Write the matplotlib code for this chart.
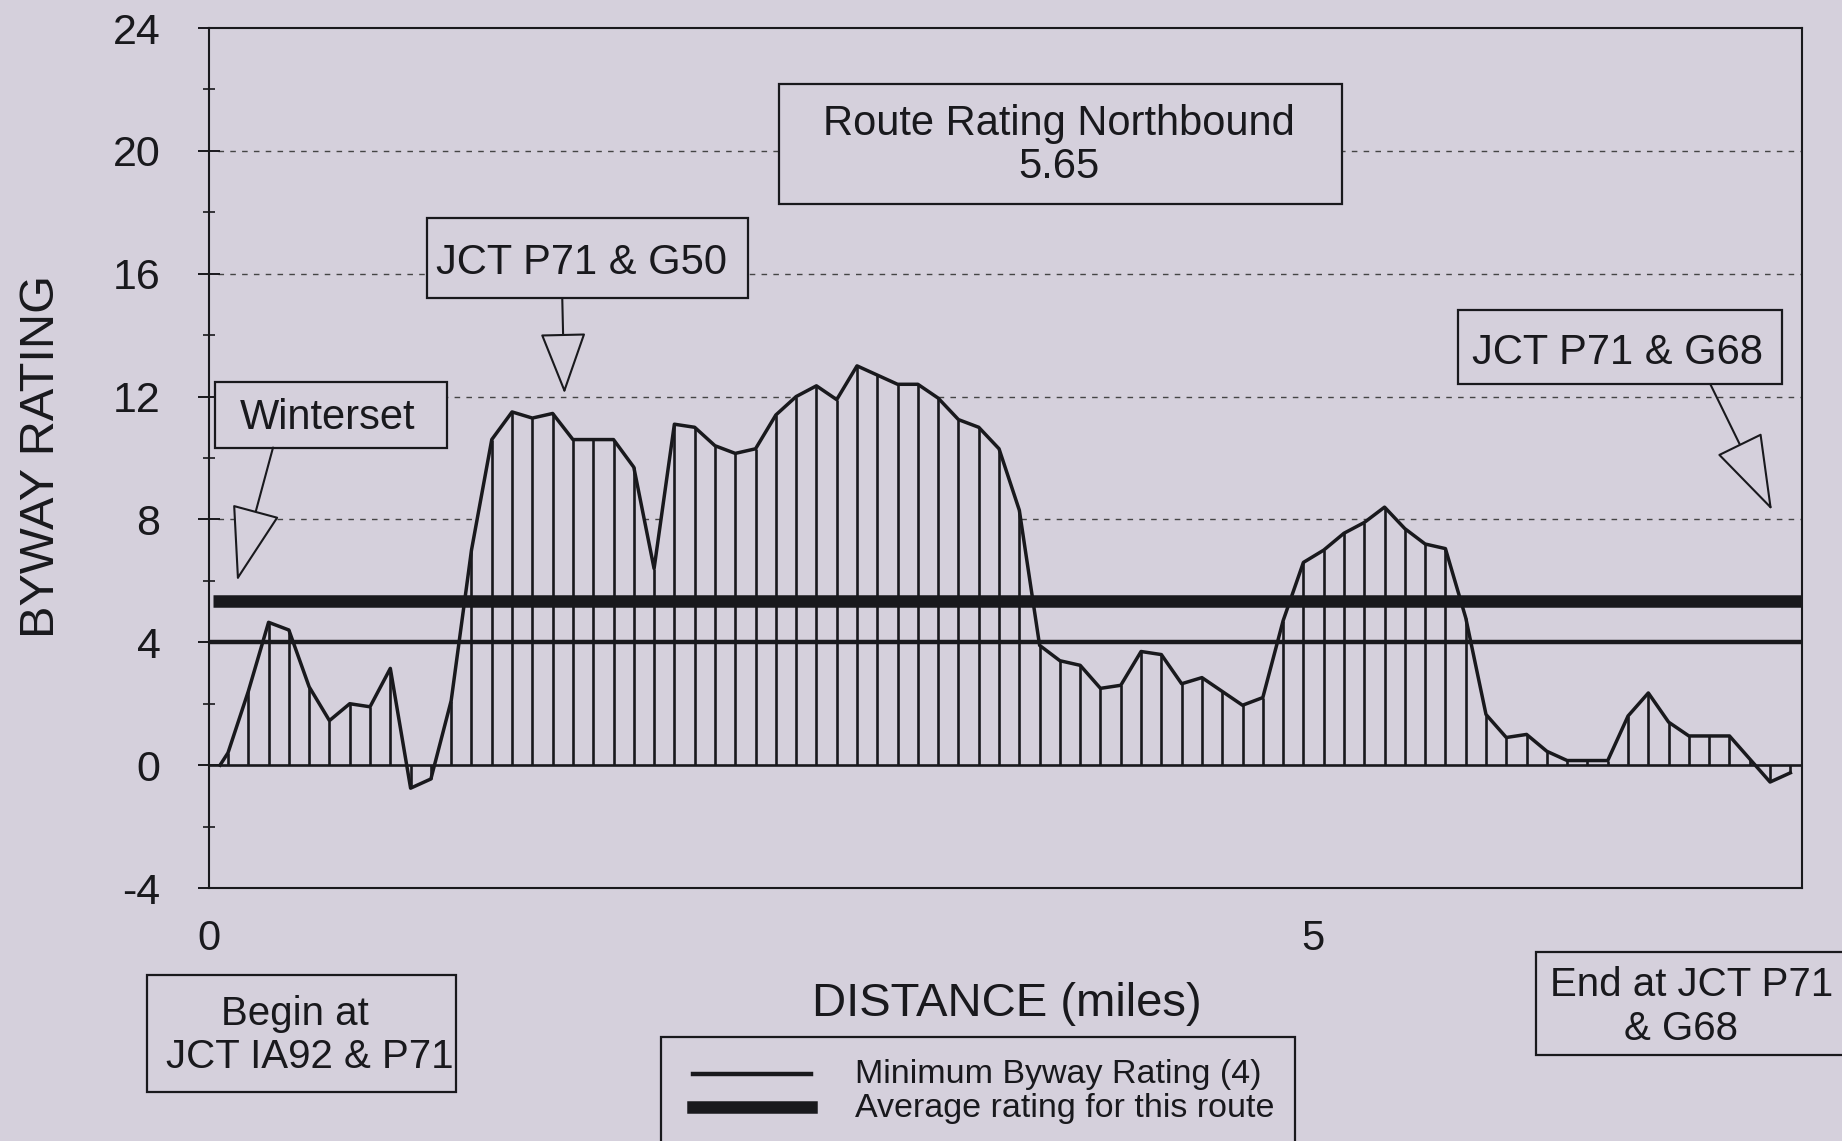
import numpy as np
import matplotlib
matplotlib.use('Agg')
import matplotlib.pyplot as plt
from matplotlib.patches import Rectangle
from matplotlib.lines import Line2D

# Byway rating sampled along the route, northbound from JCT IA92 & P71
start_mile = 0.05
first_mile = 0.086
step_mile = 0.0919
ratings = [0.0, 0.4, 2.4, 4.65, 4.4, 2.55, 1.45, 2.0, 1.9, 3.15, -0.75,
           -0.45, 2.1, 7.0, 10.6, 11.5, 11.3, 11.45, 10.6, 10.6, 10.6,
           9.7, 6.4, 11.1, 11.0, 10.4, 10.15, 10.3, 11.4, 12.0, 12.35,
           11.9, 13.0, 12.7, 12.4, 12.4, 11.95, 11.25, 11.0, 10.3, 8.3,
           3.9, 3.4, 3.25, 2.5, 2.6, 3.7, 3.6, 2.65, 2.85, 2.4,
           1.95, 2.2, 4.7, 6.6, 7.0, 7.55, 7.9, 8.4, 7.7, 7.2,
           7.05, 4.8, 1.65, 0.9, 1.0, 0.45, 0.15, 0.15, 0.15, 1.6,
           2.35, 1.4, 0.95, 0.95, 0.95, 0.2, -0.55, -0.25]
distance = np.concatenate([[start_mile],
                           first_mile + step_mile * np.arange(len(ratings) - 1)])

min_rating = 4
avg_line = 5.35          # where the average line is drawn on the chart
route_rating = '5.65'

y_ticks = [-4, 0, 4, 8, 12, 16, 20, 24]
x_ticks = [0, 5]
x_tick_labels = ['0', '5']
grid_levels = [8, 12, 16, 20]

BG = '#d5d0dc'
INK = '#19191d'
GRID = '#454545'
W, H = 1842, 1141

plt.rcParams['font.family'] = ['Liberation Sans', 'DejaVu Sans']
plt.rcParams['axes.unicode_minus'] = False


def fx(px):
    return px / W


def fy(py):
    return 1 - py / H


fig = plt.figure(figsize=(W / 100, H / 100), dpi=100, facecolor=BG)
ax = fig.add_axes([fx(209), fy(888), (1802 - 209) / W, (888 - 28) / H])
ax.set_facecolor(BG)
ax.set_xlim(0, 7.215)
ax.set_ylim(-4, 24)

# dashed reference lines
ax.hlines(grid_levels, 0.04, 7.215, colors=GRID, linestyles=(0, (4, 4.5)),
          lw=1.0, zorder=1)

# area under the profile hides the dashed lines
ax.fill_between(distance, 0, ratings, color=BG, lw=0, zorder=2)
ax.vlines(distance, 0, ratings, colors=INK, lw=1.9, zorder=3)
ax.plot(distance, ratings, color=INK, lw=2.5, zorder=3.5)
ax.axhline(0, color=INK, lw=1.9, zorder=3)

ax.axhline(min_rating, color=INK, lw=3.2, zorder=4)
ax.hlines(avg_line, 0.02, 7.215, colors=INK, lw=9, zorder=4)

ax.set_yticks(y_ticks)
ax.set_yticks(np.arange(-4, 25, 2), minor=True)
ax.set_xticks(x_ticks)
ax.set_xticklabels(x_tick_labels)
ax.tick_params(axis='y', which='major', direction='inout', length=16,
               width=1.4, pad=27, labelsize=31, colors=INK)
ax.tick_params(axis='y', which='minor', direction='inout', length=8,
               width=1.2, colors=INK)
ax.tick_params(axis='x', length=0, pad=22, labelsize=30, colors=INK)
for s in ax.spines.values():
    s.set_linewidth(1.5)
    s.set_color(INK)


def box(x0, y0, x1, y1):
    ax.add_patch(Rectangle((x0, y0), x1 - x0, y1 - y0, fc=BG, ec=INK,
                           lw=1.6, zorder=5))


def arrow(tail, tip, hl, hw):
    ax.annotate('', xy=tip, xytext=tail, zorder=5,
                arrowprops=dict(arrowstyle=f'-|>,head_length={hl},head_width={hw}',
                                fc=BG, ec=INK, lw=1.5, shrinkA=0, shrinkB=0,
                                mutation_scale=10))


# annotation boxes inside the plot
box(2.58, 18.27, 5.13, 22.17)
ax.text(3.85, 20.5, 'Route Rating Northbound', ha='center', va='baseline',
        fontsize=30, color=INK, zorder=6)
ax.text(3.85, 19.1, route_rating, ha='center', va='baseline',
        fontsize=30, color=INK, zorder=6)

box(0.987, 15.2, 2.44, 17.83)
ax.text(1.685, 16.0, 'JCT P71 & G50', ha='center', va='baseline',
        fontsize=30, color=INK, zorder=6)
arrow((1.60, 15.2), (1.61, 12.1), 4.0, 1.5)

box(0.027, 10.34, 1.078, 12.47)
ax.text(0.535, 10.95, 'Winterset', ha='center', va='baseline',
        fontsize=30, color=INK, zorder=6)
arrow((0.29, 10.34), (0.127, 6.0), 4.9, 1.6)

box(5.657, 12.4, 7.124, 14.82)
ax.text(6.38, 13.05, 'JCT P71 & G68', ha='center', va='baseline',
        fontsize=30, color=INK, zorder=6)
arrow((6.80, 12.4), (7.079, 8.3), 5.0, 1.65)

# axis titles
fig.text(fx(42), fy(456), 'BYWAY RATING', rotation=90, fontsize=35,
         ha='center', va='center', color=INK)
fig.text(fx(1007), fy(1004), 'DISTANCE (miles)', fontsize=34,
         ha='center', va='center', color=INK)


def fig_box(x0, y0, x1, y1):
    fig.add_artist(Rectangle((fx(x0), fy(y1)), fx(x1) - fx(x0), fy(y0) - fy(y1),
                             transform=fig.transFigure, fc=BG, ec=INK, lw=1.6))


# start / end boxes below the axis
fig_box(147, 975, 456, 1092)
fig.text(fx(295), fy(1025), 'Begin at', fontsize=29, ha='center',
         va='baseline', color=INK)
fig.text(fx(310), fy(1068), 'JCT IA92 & P71', fontsize=29, ha='center',
         va='baseline', color=INK)

fig_box(1536, 952, 1860, 1055)
fig.text(fx(1692), fy(996), 'End at JCT P71', fontsize=29, ha='center',
         va='baseline', color=INK)
fig.text(fx(1681), fy(1040), '& G68', fontsize=29, ha='center',
         va='baseline', color=INK)

# legend
fig_box(661, 1037, 1295, 1200)
fig.add_artist(Line2D([fx(693), fx(811)], [fy(1074)] * 2, color=INK, lw=3.2,
                      transform=fig.transFigure))
fig.add_artist(Line2D([fx(693), fx(811)], [fy(1107)] * 2, color=INK, lw=9,
                      transform=fig.transFigure))
fig.text(fx(855), fy(1075), 'Minimum Byway Rating (4)', fontsize=24.5,
         va='center', color=INK)
fig.text(fx(855), fy(1108), 'Average rating for this route', fontsize=24.5,
         va='center', color=INK)

fig.savefig('out.png', dpi=100, facecolor=BG)
plt.close(fig)
